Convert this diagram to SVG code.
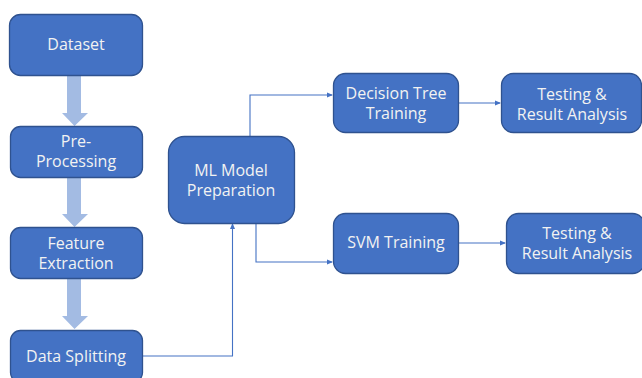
<svg xmlns="http://www.w3.org/2000/svg" width="642" height="378" viewBox="0 0 642 378">
<defs>
<marker id="ah" markerWidth="6" markerHeight="6" refX="5" refY="3" orient="auto" markerUnits="userSpaceOnUse">
<path d="M0,0.5 L6,3 L0,5.5 Z" fill="#4472C4"/>
</marker>
</defs>
<style>
.box{fill:#4472C4;stroke:#2F528F;stroke-width:1.3}
.t{font-family:"Open Sans","Noto Sans","Liberation Sans",sans-serif;font-size:16px;fill:#F2F2F2;text-anchor:middle}
.c{fill:none;stroke:#4472C4;stroke-width:1.1}
.big{fill:#A3BBE3}
</style>
<rect width="642" height="378" fill="#ffffff"/>
<g id="connectors">
<path class="big" d="M67,76 H81 V113 H88 L74.5,126 L62,113 H67 Z"/>
<path class="big" d="M67,178 H81 V214 H88 L74.5,227 L62,214 H67 Z"/>
<path class="big" d="M67,279 H81 V316 H88 L74.5,329 L62,316 H67 Z"/>
<path class="c" d="M143,356 H232.5 V224" marker-end="url(#ah)"/>
<path class="c" d="M250,136 V95 H332" marker-end="url(#ah)"/>
<path class="c" d="M256,223 V262 H332" marker-end="url(#ah)"/>
<path class="c" d="M459,103 H500" marker-end="url(#ah)"/>
<path class="c" d="M459,243 H505" marker-end="url(#ah)"/>
</g>
<g id="dataset"><rect class="box" x="9.5" y="14.5" width="133" height="61" rx="11"/><text class="t" x="76" y="50">Dataset</text></g>
<g id="preprocessing"><rect class="box" x="10.5" y="126.5" width="132" height="51" rx="10"/><text class="t" x="76" y="147">Pre-</text><text class="t" x="76" y="167">Processing</text></g>
<g id="feature"><rect class="box" x="10.5" y="227.5" width="132" height="51" rx="10"/><text class="t" x="76" y="249">Feature</text><text class="t" x="76" y="269">Extraction</text></g>
<g id="splitting"><rect class="box" x="10.5" y="330.5" width="132" height="52" rx="10"/><text class="t" x="76" y="362">Data Splitting</text></g>
<g id="mlmodel"><rect class="box" x="168.5" y="136.5" width="126" height="87" rx="16"/><text class="t" x="231" y="176">ML Model</text><text class="t" x="231" y="196">Preparation</text></g>
<g id="dtree"><rect class="box" x="333.5" y="73.5" width="125" height="59" rx="12"/><text class="t" x="396" y="99">Decision Tree</text><text class="t" x="396" y="119">Training</text></g>
<g id="svm"><rect class="box" x="333.5" y="213.5" width="125" height="60" rx="12"/><text class="t" x="396" y="248">SVM Training</text></g>
<g id="test1"><rect class="box" x="501.5" y="73.5" width="140" height="59" rx="12"/><text class="t" x="572" y="100">Testing &amp;</text><text class="t" x="572" y="120">Result Analysis</text></g>
<g id="test2"><rect class="box" x="506.5" y="213.5" width="138" height="60" rx="12"/><text class="t" x="577" y="239">Testing &amp;</text><text class="t" x="577" y="259">Result Analysis</text></g>
</svg>
